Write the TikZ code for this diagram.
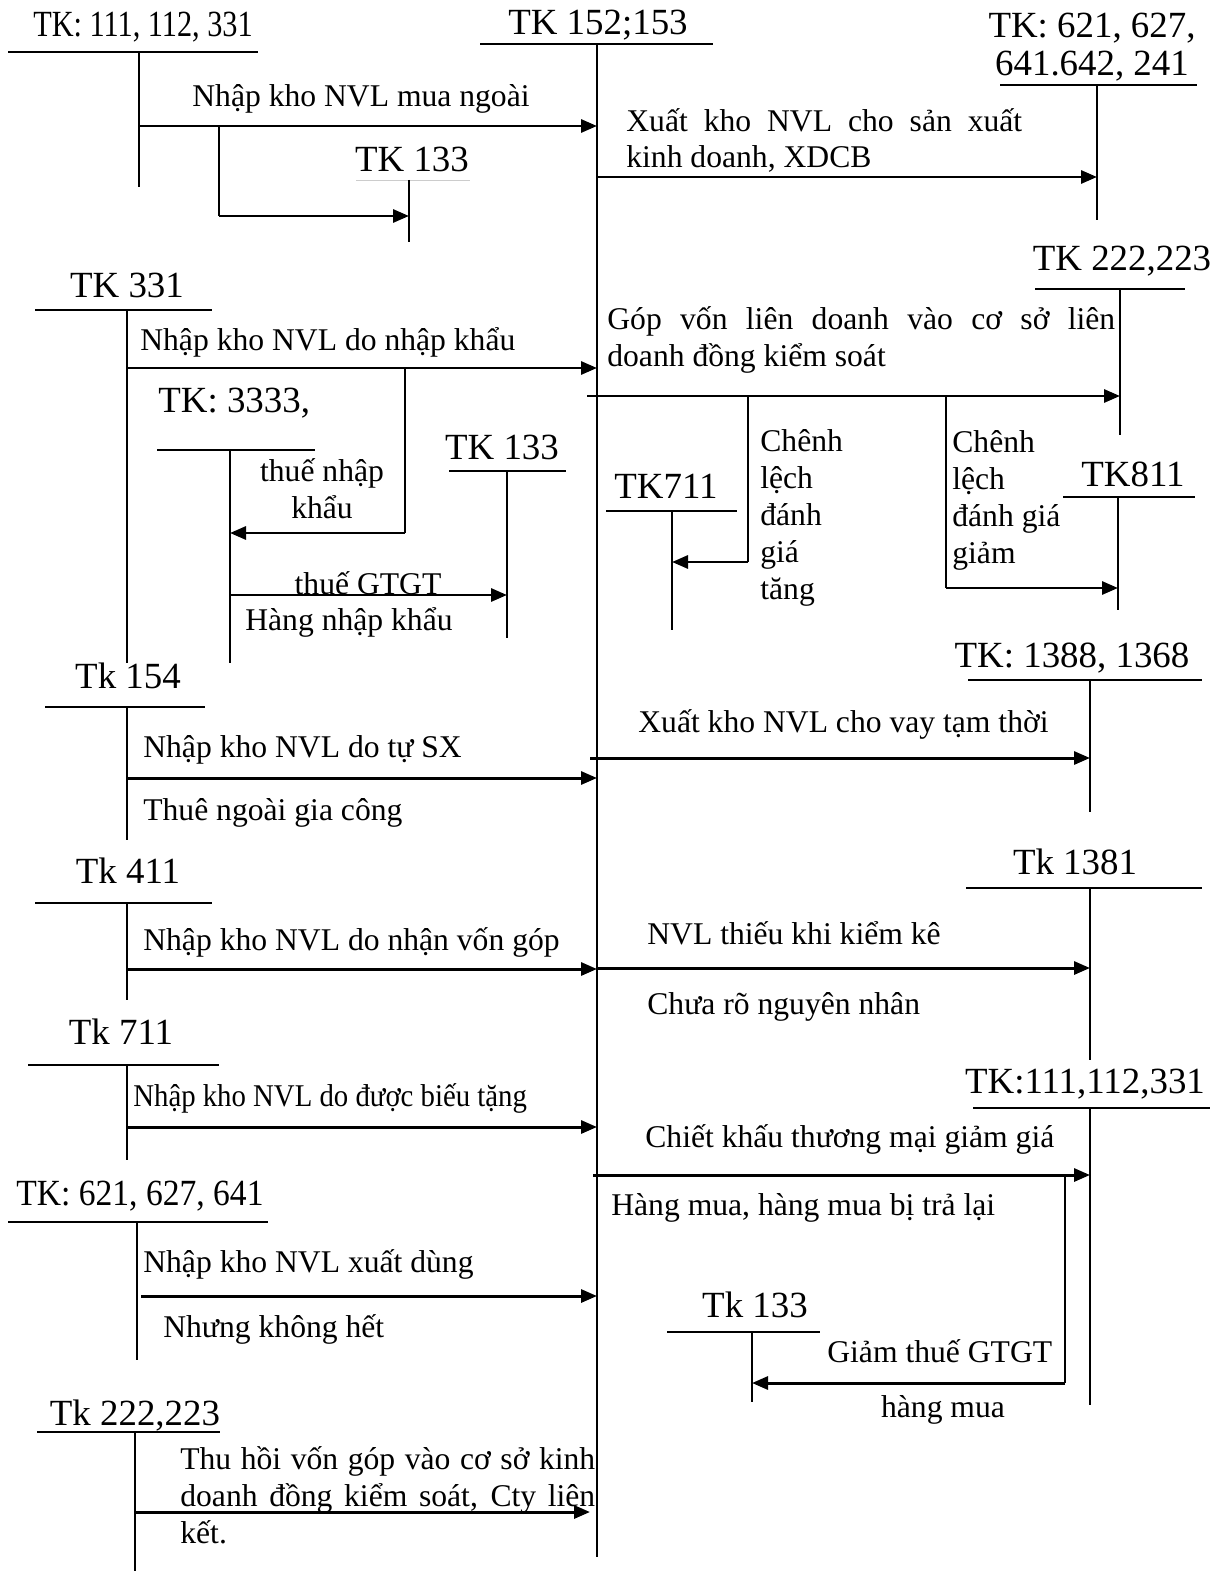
\documentclass[tikz,border=0pt]{standalone}
\usepackage{fontspec}
\setmainfont{Liberation Serif}
\newfontfamily\condfont[FakeStretch=0.82]{Liberation Serif}
\newfontfamily\tightfont[FakeStretch=0.91]{Liberation Serif}
\usetikzlibrary{arrows.meta}
\newcommand\taccount[6]{%
  \coordinate (#1-l) at (#2,#4);
  \coordinate (#1-r) at (#3,#4);
  \coordinate (#1-t) at (#5,#4);
  \coordinate (#1-b) at (#5,#6);
  \draw[tl] (#1-l) -- (#1-r) (#1-t) -- (#1-b);}

\begin{document}
\begin{tikzpicture}[
  x=0.02cm,y=-0.02cm,
  >={Triangle[length=0.32cm,width=0.26cm]},
  acc/.style={font=\fontsize{21}{22}\selectfont,inner sep=0pt,anchor=base},
  lb/.style={font=\fontsize{18}{21}\selectfont,inner sep=0pt,anchor=base west,align=left},
  tl/.style={line width=1.1pt},
  flow/.style={->,line width=1.7pt},
]
  \useasboundingbox (0,0) rectangle (1229,1571);

  \taccount{k111}{8}{258}{52}{139}{187}
  \taccount{k152}{480}{713}{44}{597}{1557}
  \taccount{k621}{1000}{1197}{85}{1097}{220}
  \taccount{k331}{35}{212}{310}{127}{663}
  \taccount{k3333}{157}{315}{450}{230}{663}
  \taccount{k133b}{449}{566}{471}{507}{638}
  \taccount{k222}{1035}{1185}{289}{1120}{435}
  \taccount{k711a}{606}{737}{511}{672}{630}
  \taccount{k811}{1063}{1195}{497}{1118}{610}
  \taccount{k154}{45}{205}{707}{127}{840}
  \taccount{k1388}{968}{1202}{680}{1090}{812}
  \taccount{k411}{35}{212}{903}{127}{1000}
  \taccount{k1381}{966}{1202}{888}{1090}{1060}
  \taccount{k711b}{28}{219}{1065}{127}{1160}
  \taccount{k111b}{973}{1210}{1108}{1090}{1405}
  \taccount{k621b}{8}{268}{1222}{137}{1360}
  \taccount{k133c}{667}{820}{1332}{752}{1402}
  \taccount{k222b}{37}{220}{1432}{135}{1571}
  \coordinate (k133a-l) at (356,180); \coordinate (k133a-r) at (470,180);
  \coordinate (k133a-t) at (409,180); \coordinate (k133a-b) at (409,242);
  \draw[line width=0.5pt,black!20] (k133a-l) -- (k133a-r);
  \draw[tl] (k133a-t) -- (k133a-b);

  \node[acc] (n111) at (143,37) {\condfont TK: 111, 112, 331};
  \node[acc] (n152) at (598,35) {TK 152;153};
  \node[acc,align=center] (n621) at (1092,76) {TK: 621, 627,\\641.642, 241};
  \node[acc] (n133a) at (412,172) {TK 133};
  \node[acc] (n331) at (127,297) {TK 331};
  \node[acc] (n222) at (1122,270) {TK 222,223};
  \node[acc,anchor=base west] (n3333) at (158,412) {TK: 3333,};
  \node[acc] (n133b) at (502,459) {TK 133};
  \node[acc] (n711a) at (666,498) {TK711};
  \node[acc] (n811) at (1133,486) {TK811};
  \node[acc] (n154) at (128,688) {Tk 154};
  \node[acc] (n1388) at (1072,667) {TK: 1388, 1368};
  \node[acc] (n411) at (128,883) {Tk 411};
  \node[acc] (n1381) at (1075,874) {Tk 1381};
  \node[acc] (n711b) at (121,1044) {Tk 711};
  \node[acc] (n111b) at (1085,1093) {TK:111,112,331};
  \node[acc] (n621b) at (140,1205) {\tightfont TK: 621, 627, 641};
  \node[acc] (n133c) at (755,1317) {Tk 133};
  \node[acc] (n222b) at (135,1425) {Tk 222,223};

  \coordinate (f1s) at (139,126);  \coordinate (f1e) at (597,126);
  \coordinate (b1s) at (219,126);  \coordinate (b1e) at (409,216);
  \coordinate (f2s) at (597,177);  \coordinate (f2e) at (1097,177);
  \coordinate (f3s) at (127,368);  \coordinate (f3e) at (597,368);
  \coordinate (b3s) at (405,368);  \coordinate (b3e) at (230,533);
  \coordinate (f4s) at (230,595);  \coordinate (f4e) at (507,595);
  \coordinate (f5s) at (587,396);  \coordinate (f5e) at (1120,396);
  \coordinate (b5s) at (748,396);  \coordinate (b5e) at (672,562);
  \coordinate (b6s) at (946,396);  \coordinate (b6e) at (1118,588);
  \coordinate (f6s) at (590,758);  \coordinate (f6e) at (1090,758);
  \coordinate (f7s) at (127,778);  \coordinate (f7e) at (597,778);
  \coordinate (f8s) at (597,968);  \coordinate (f8e) at (1090,968);
  \coordinate (f9s) at (127,969);  \coordinate (f9e) at (597,969);
  \coordinate (f10s) at (127,1127); \coordinate (f10e) at (597,1127);
  \coordinate (f11s) at (593,1175); \coordinate (f11e) at (1090,1175);
  \coordinate (b11s) at (1065,1175); \coordinate (b11e) at (752,1383);
  \coordinate (f12s) at (141,1296); \coordinate (f12e) at (597,1296);
  \coordinate (f13s) at (135,1512); \coordinate (f13e) at (590,1512);

  \draw[flow] (f1s) -- (f1e);
  \draw[tl] (b1s) -- (b1s |- b1e);
  \draw[flow] (b1s |- b1e) -- (b1e);
  \draw[flow] (f2s) -- (f2e);
  \draw[flow] (f3s) -- (f3e);
  \draw[tl] (b3s) -- (b3s |- b3e);
  \draw[flow] (b3s |- b3e) -- (b3e);
  \draw[flow] (f4s) -- (f4e);
  \draw[flow] (f5s) -- (f5e);
  \draw[tl] (b5s) -- (b5s |- b5e);
  \draw[flow] (b5s |- b5e) -- (b5e);
  \draw[tl] (b6s) -- (b6s |- b6e);
  \draw[flow] (b6s |- b6e) -- (b6e);
  \draw[flow] (f6s) -- (f6e);
  \draw[flow] (f7s) -- (f7e);
  \draw[flow] (f8s) -- (f8e);
  \draw[flow] (f9s) -- (f9e);
  \draw[flow] (f10s) -- (f10e);
  \draw[flow] (f11s) -- (f11e);
  \draw[tl] (b11s) -- (b11s |- b11e);
  \draw[flow] (b11s |- b11e) -- (b11e);
  \draw[flow] (f12s) -- (f12e);
  \draw[flow] (f13s) -- (f13e);

  \node[lb] (t1) at (192,107) {Nhập kho NVL mua ngoài};
  \node[lb] (t2) at (626,168) {\makebox[7.92cm][s]{Xuất kho NVL cho sản xuất}\\kinh doanh, XDCB};
  \node[lb] (t3) at (607,366) {\makebox[10.16cm][s]{Góp vốn liên doanh vào cơ sở liên}\\doanh đồng kiểm soát};
  \node[lb] (t4) at (140,350) {Nhập kho NVL do nhập khẩu};
  \node[lb,anchor=base,align=center] (t5) at (322,518) {thuế nhập\\khẩu};
  \node[lb,anchor=base] (t6) at (368,594) {thuế GTGT};
  \node[lb] (t7) at (245,630) {Hàng nhập khẩu};
  \node[lb] (t8) at (760,599) {Chênh\\lệch\\đánh\\giá\\tăng};
  \node[lb] (t9) at (952,563) {Chênh\\lệch\\đánh giá\\giảm};
  \node[lb] (t10) at (638,732) {Xuất kho NVL cho vay tạm thời};
  \node[lb] (t11) at (143,757) {Nhập kho NVL do tự SX};
  \node[lb] (t12) at (143,820) {Thuê ngoài gia công};
  \node[lb] (t13) at (647,944) {NVL thiếu khi kiểm kê};
  \node[lb] (t14) at (143,950) {Nhập kho NVL do nhận vốn góp};
  \node[lb] (t15) at (647,1014) {Chưa rõ nguyên nhân};
  \node[lb] (t16) at (133,1106) {\tightfont Nhập kho NVL do được biếu tặng};
  \node[lb] (t17) at (645,1147) {Chiết khấu thương mại giảm giá};
  \node[lb] (t18) at (611,1215) {Hàng mua, hàng mua bị trả lại};
  \node[lb] (t19) at (143,1272) {Nhập kho NVL xuất dùng};
  \node[lb] (t20) at (163,1337) {Nhưng không hết};
  \node[lb] (t21) at (827,1362) {Giảm thuế GTGT};
  \node[lb,anchor=base] (t22) at (943,1417) {hàng mua};
  \node[lb] (t23) at (180,1543) {\makebox[8.3cm][s]{Thu hồi vốn góp vào cơ sở kinh}\\\makebox[8.3cm][s]{doanh đồng kiểm soát, Cty liên}\\kết.};
\end{tikzpicture}
\end{document}
